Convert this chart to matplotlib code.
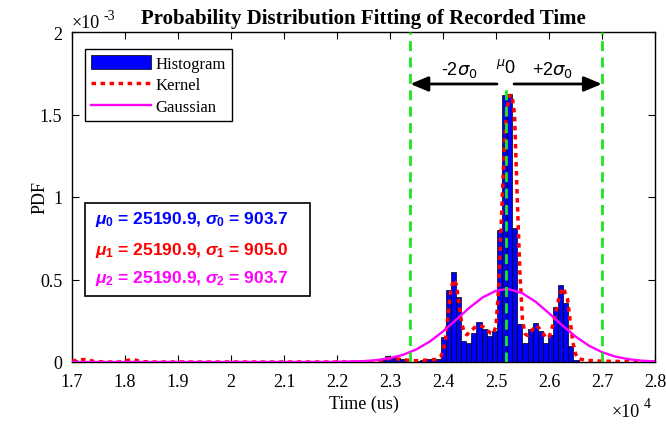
import matplotlib
matplotlib.use("Agg")
import matplotlib.pyplot as plt
from matplotlib.patches import Rectangle
from matplotlib.ticker import FuncFormatter, FixedLocator

# ---------------- data (PDF values in units of 1e-3) ----------------
hist_start = 22802.0
hist_bin_width = 96.3
hist_heights = [0.010, 0.035, 0.025, 0.025, 0.020, 0.010, 0.000, 0.005, 0.012, 0.016,
                0.016, 0.020, 0.153, 0.438, 0.543, 0.392, 0.125, 0.113, 0.176, 0.240,
                0.200, 0.160, 0.190, 0.800, 1.618, 1.624, 0.812, 0.230, 0.113, 0.200,
                0.236, 0.190, 0.115, 0.164, 0.331, 0.469, 0.358, 0.100, 0.015]
tail_centers = [17040, 17230, 18100]
tail_heights = [0.010, 0.006, 0.008]

kernel_t = [17000, 17100, 17250, 17400, 17600, 17900, 18050, 18150, 18300, 18500,
            20000, 22600, 22700, 22850, 22950, 23100, 23250, 23400, 23550, 23700,
            23850, 23950, 24000, 24050, 24100, 24150, 24200, 24250, 24300, 24350,
            24400, 24450, 24500, 24600, 24700, 24750, 24800, 24900, 24950, 25000,
            25050, 25100, 25150, 25200, 25250, 25300, 25350, 25400, 25450, 25500,
            25550, 25600, 25700, 25770, 25850, 25950, 26000, 26100, 26200, 26270,
            26350, 26400, 26450, 26500, 26550, 26700, 27000, 28000]
kernel_pdf = [0.005, 0.012, 0.015, 0.005, 0.000, 0.000, 0.010, 0.015, 0.003, 0.000,
              0.000, 0.000, 0.003, 0.010, 0.020, 0.020, 0.015, 0.008, 0.008, 0.012,
              0.015, 0.030, 0.060, 0.150, 0.300, 0.440, 0.500, 0.470, 0.360, 0.240,
              0.180, 0.165, 0.180, 0.210, 0.220, 0.215, 0.200, 0.175, 0.170, 0.220,
              0.450, 0.850, 1.250, 1.520, 1.610, 1.620, 1.500, 1.000, 0.550, 0.250,
              0.170, 0.160, 0.200, 0.222, 0.190, 0.145, 0.150, 0.250, 0.410, 0.450,
              0.380, 0.250, 0.120, 0.050, 0.020, 0.010, 0.005, 0.000]

gauss_t = [17000, 21500, 22000, 22500, 22750, 23000, 23250, 23500, 23750, 24000,
           24250, 24500, 24750, 25000, 25190, 25250, 25500, 25750, 26000, 26250,
           26500, 26750, 27000, 27250, 27500, 27750, 28000]
gauss_pdf = [0.0, 0.0001, 0.0009, 0.0052, 0.0115, 0.0234, 0.044, 0.0767, 0.1239, 0.1853,
             0.2567, 0.3296, 0.3919, 0.4317, 0.4414, 0.4405, 0.4163, 0.3645, 0.2957, 0.2221,
             0.1546, 0.0997, 0.0595, 0.0329, 0.0169, 0.0080, 0.0035]

mu = [25190.9, 25190.9, 25190.9]
sigma = [903.7, 905.0, 903.7]

x_ticks = [17000, 18000, 19000, 20000, 21000, 22000, 23000, 24000, 25000, 26000, 27000, 28000]
y_ticks = [0, 0.5, 1, 1.5, 2]

# ---------------- figure ----------------
W, H = 666, 427
fig = plt.figure(figsize=(W / 100, H / 100), dpi=100)
ax = fig.add_axes([72 / W, 1 - 363 / H, (655 - 72) / W, (363 - 33) / H])

serif = "Liberation Serif"
sans = "Liberation Sans"
plt.rcParams["mathtext.rm"] = "Liberation Sans:bold"
plt.rcParams["mathtext.it"] = "Liberation Sans:italic:bold"
plt.rcParams["mathtext.bf"] = "Liberation Sans:bold"

edges = [hist_start + i * hist_bin_width for i in range(len(hist_heights))]
h_bar = ax.bar(edges, hist_heights, width=hist_bin_width, align="edge", color="blue",
               edgecolor="black", linewidth=0.5, label="Histogram", zorder=2)
ax.bar(tail_centers, tail_heights, width=hist_bin_width, align="center", color="blue",
       edgecolor="black", linewidth=0.5, zorder=2)

h_ker, = ax.plot(kernel_t, kernel_pdf, color="red", linestyle=(0, (1.3, 1.3)),
                 linewidth=2.5, label="Kernel", zorder=3)
h_gau, = ax.plot(gauss_t, gauss_pdf, color="magenta", linewidth=1.7, label="Gaussian",
                 zorder=4)

green = "#1EE61E"
lo = mu[0] - 2 * sigma[0]
hi = mu[0] + 2 * sigma[0]
arrow_y = 1.685
ax.plot([lo, lo], [0, 2], color=green, linestyle=(0, (3.6, 2.3)), linewidth=2, zorder=5)
ax.plot([hi, hi], [0, 2], color=green, linestyle=(0, (3.6, 2.3)), linewidth=2, zorder=5)
ax.plot([mu[0], mu[0]], [0, arrow_y], color=green, linestyle=(0, (3.6, 2.3)), linewidth=2,
        zorder=5)

arrowprops = dict(arrowstyle="-|>,head_length=0.6,head_width=0.25", color="black",
                  lw=2, mutation_scale=18, shrinkA=0, shrinkB=0)
ax.annotate("", xy=(lo, arrow_y), xytext=(25019, arrow_y), arrowprops=arrowprops, zorder=6)
ax.annotate("", xy=(hi, arrow_y), xytext=(25340, arrow_y), arrowprops=arrowprops, zorder=6)

ax.set_xlim(17000, 28000)
ax.set_ylim(0, 2)
ax.xaxis.set_major_locator(FixedLocator(x_ticks))
ax.yaxis.set_major_locator(FixedLocator(y_ticks))
ax.xaxis.set_major_formatter(FuncFormatter(lambda v, p: f"{v / 1e4:g}"))
ax.yaxis.set_major_formatter(FuncFormatter(lambda v, p: f"{v:g}"))
ax.tick_params(direction="in", top=True, right=True, length=5, width=0.8, labelsize=13)
ax.tick_params(axis="x", pad=8)
ax.tick_params(axis="y", pad=7)
for lab in ax.get_xticklabels() + ax.get_yticklabels():
    lab.set_fontfamily(serif)
for s in ax.spines.values():
    s.set_linewidth(1.0)

fig.text(363.5 / W, 1 - 404 / H, "Time (us)", ha="center", va="center",
         fontfamily=serif, fontsize=13)
fig.text(40 / W, 1 - 198 / H, "PDF", ha="center", va="center", rotation=90,
         fontfamily=serif, fontsize=13)

fig.text(363.5 / W, 1 - 19 / H, "Probability Distribution Fitting of Recorded Time",
         ha="center", va="center", fontfamily=serif, fontweight="bold", fontsize=15)
fig.text(72 / W, 1 - 24 / H, "\u00d710", ha="left", va="center", fontfamily=serif, fontsize=13)
fig.text(104 / W, 1 - 16 / H, "-3", ha="left", va="center", fontfamily=serif, fontsize=10)
fig.text(612 / W, 1 - 413 / H, "\u00d710", ha="left", va="center", fontfamily=serif, fontsize=13)
fig.text(644 / W, 1 - 405 / H, "4", ha="left", va="center", fontfamily=serif, fontsize=10)

leg = ax.legend(handles=[h_bar, h_ker, h_gau], loc="upper left",
                bbox_to_anchor=(85 / W, 1 - 50 / H),
                bbox_transform=fig.transFigure, borderaxespad=0, fancybox=False,
                edgecolor="black", framealpha=1, prop={"family": serif, "size": 12},
                handlelength=3.6, handleheight=0.9, labelspacing=0.3, borderpad=0.35,
                handletextpad=0.3)
leg.get_frame().set_linewidth(1.0)
leg.set_zorder(10)

# annotations near arrow
fig.text(459 / W, 1 - 70 / H, r"-2$\sigma_{\mathit{0}}$", ha="center", va="center",
         fontfamily=sans, fontsize=13, math_fontfamily="dejavusans")
fig.text(506 / W, 1 - 68 / H, r"${}^{\mu}$0", ha="center", va="center",
         fontfamily=sans, fontsize=13, math_fontfamily="dejavusans")
fig.text(553 / W, 1 - 70 / H, r"+2$\sigma_{\mathit{0}}$", ha="center", va="center",
         fontfamily=sans, fontsize=13, math_fontfamily="dejavusans")

# parameter box
ax.add_patch(Rectangle((85 / W, 1 - 297 / H), (310 - 85) / W, (297 - 204) / H,
                       transform=fig.transFigure, facecolor="white", edgecolor="black",
                       linewidth=1.2, clip_on=False, zorder=10))
colors = ["blue", "red", "magenta"]
ys = [220, 250, 279]
for i in range(3):
    s = (rf"$\mu_{{{i}}}$ = {mu[i]:.1f}, $\sigma_{{{i}}}$ = {sigma[i]:.1f}")
    fig.text(95 / W, 1 - ys[i] / H, s, ha="left", va="center", color=colors[i],
             fontfamily=sans, fontweight="bold", fontsize=12.5, math_fontfamily="custom",
             zorder=11)

fig.savefig("out.png", dpi=100)
